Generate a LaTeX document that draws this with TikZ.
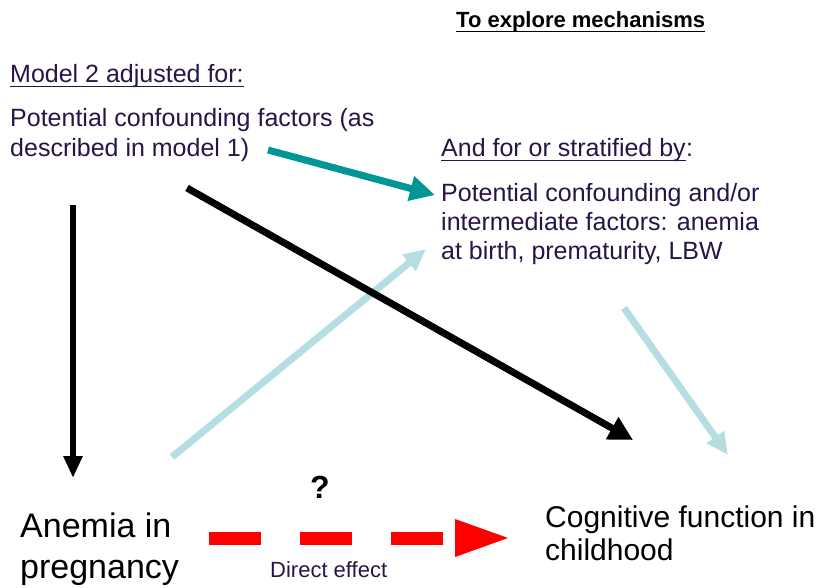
\documentclass[tikz,border=0pt]{standalone}
\usepackage{fontspec}
\setmainfont{Liberation Sans}
\usetikzlibrary{arrows.meta}
\definecolor{txt}{RGB}{40,20,70}
\definecolor{tealA}{RGB}{0,150,150}
\definecolor{lblue}{RGB}{180,222,226}
\definecolor{redA}{RGB}{255,0,0}
\begin{document}
\begin{tikzpicture}[x=1pt,y=-1pt,
  lbl/.style={anchor=base west, inner sep=0pt, text=txt, font=\fontsize{25}{29}\selectfont},
  ttl/.style={anchor=base west, inner sep=0pt, text=black, font=\fontsize{22}{26}\selectfont\bfseries},
  big/.style={anchor=base west, inner sep=0pt, text=black, font=\fontsize{34}{40}\selectfont},
  mid/.style={anchor=base west, inner sep=0pt, text=black, font=\fontsize{30}{34}\selectfont},
  small/.style={anchor=base west, inner sep=0pt, text=txt, font=\fontsize{22}{26}\selectfont},
  uline/.style={line width=1.5pt},
  blackarr/.style={line width=7pt, -{Triangle[length=24pt,width=24pt]}},
  thinblack/.style={line width=5.5pt, -{Triangle[length=22pt,width=18pt]}},
  tealarr/.style={tealA, line width=7pt, -{Triangle[length=25pt,width=24pt]}},
  bluearr/.style={lblue, line width=7pt, -{Triangle[length=22pt,width=20pt]}},
  reddash/.style={redA, line width=13pt, dash pattern=on 52pt off 39pt}
]
\useasboundingbox (0,0) rectangle (821,588);

% texts
\node[ttl] (title) at (456,28) {To explore mechanisms};
\node[lbl] (m2) at (10,83) {Model 2 adjusted for:};
\node[lbl] (pc1) at (10,127) {Potential confounding factors (as};
\node[lbl] (pc2) at (10,157) {described in model 1)};
\node[lbl] (af) at (441,157) {And for or stratified by};
\node[lbl] (afc) at (af.base east) {:};
\node[lbl] (ic1) at (441,201) {Potential confounding and/or};
\node[lbl] (ic2) at (441,230) {intermediate factors: anemia};
\node[lbl] (ic3) at (441,259) {at birth, prematurity, LBW};
\node[big] (an1) at (20,537) {Anemia in};
\node[big] (an2) at (20,578) {pregnancy};
\node[mid] (cf1) at (545,527) {Cognitive function in};
\node[mid] (cf2) at (545,560) {childhood};
\node[anchor=base, inner sep=0pt, font=\fontsize{32}{40}\selectfont\bfseries] (q) at (320,498) {?};
\node[small] (de) at (270,577) {Direct effect};

% underlines
\draw[uline] ([yshift=-3.5pt]title.base west) -- ([yshift=-3.5pt]title.base east);
\draw[uline, txt] ([yshift=-3.5pt]m2.base west) -- ([yshift=-3.5pt]m2.base east);
\draw[uline, txt] ([yshift=-3.5pt]af.base west) -- ([yshift=-3.5pt]af.base east);

% arrow endpoints
\coordinate (vS) at (73,205);
\coordinate (vE) at (73,478);
\coordinate (dS) at (187,188);
\coordinate (dE) at (633,440);
\coordinate (tS) at (268,150);
\coordinate (tE) at (435,195);
\coordinate (b1S) at (172,457);
\coordinate (b1E) at (426,249);
\coordinate (b2S) at (624,308);
\coordinate (b2E) at (728,455);
\coordinate (rS) at (209,538);
\coordinate (rM) at (455,538);
\coordinate (rE) at (508,538);

% arrows
\draw[thinblack] (vS) -- (vE);
\draw[bluearr] (b1S) -- (b1E);
\draw[blackarr] (dS) -- (dE);
\draw[tealarr] (tS) -- (tE);
\draw[bluearr] (b2S) -- (b2E);
\draw[reddash] (rS) -- (rM);
\fill[redA] ([yshift=-19pt]rM) -- (rE) -- ([yshift=19pt]rM) -- cycle;
\end{tikzpicture}
\end{document}
